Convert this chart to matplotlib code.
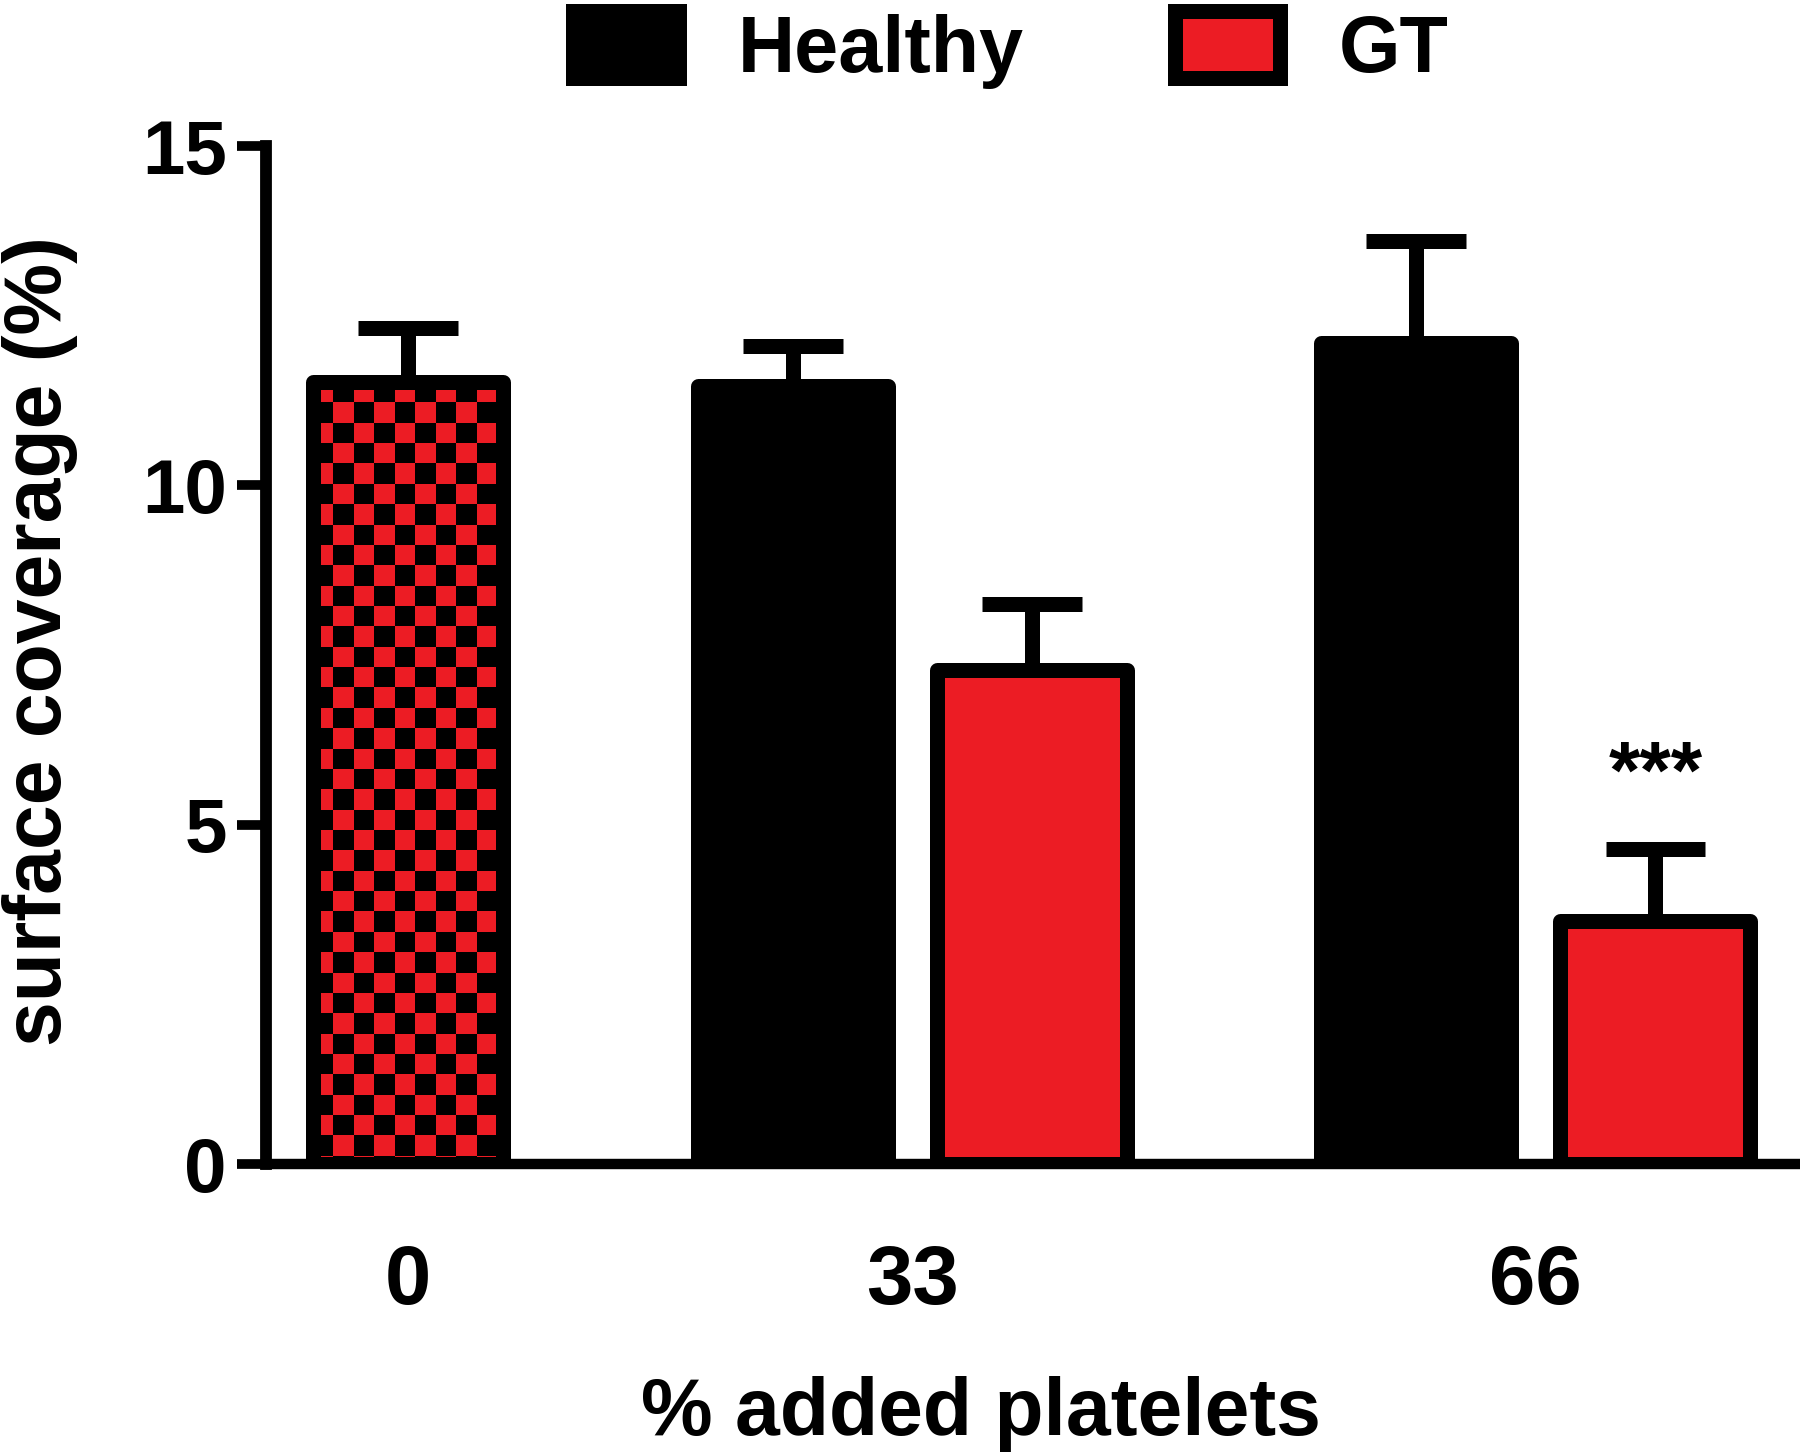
import numpy as np
import matplotlib.pyplot as plt
from matplotlib.colors import ListedColormap

# --- datos (surface coverage %, media y error) ---
groups = ['0', '33', '66']
checker_mean = 11.52
checker_err = 0.80
healthy_mean = [11.46, 12.10]
healthy_err = [0.60, 1.51]
gt_mean = [7.28, 3.58]
gt_err = [0.98, 1.06]
signif = '***'

plt.rcParams['font.family'] = ['Liberation Sans', 'DejaVu Sans']
plt.rcParams['font.weight'] = 'bold'

RED = '#EC1C24'
LW = 10.8          # borde de barras / barras de error
x_pos = [0.19, 1.0, 2.0]
off = 0.192
w = 0.305
cap_hw = 0.08

fig = plt.figure(figsize=(18, 14.56), dpi=100)
ax = fig.add_axes([0.148, 0.2005, 0.852, 0.6991])

# --- barra cuadriculada (0 %) ---
chk = ax.bar(x_pos[0], checker_mean, w, facecolor='none', edgecolor='black',
             linewidth=LW, joinstyle='round', zorder=3)
sq_x, sq_y = 0.0327, 0.30
nx = int(np.ceil(w / sq_x))
ny = int(np.ceil(checker_mean / sq_y))
board = np.add.outer(np.arange(ny), np.arange(nx)) % 2
x0 = x_pos[0] - w / 2
img = ax.imshow(board, cmap=ListedColormap([RED, 'black']),
                extent=(x0, x0 + nx * sq_x, checker_mean - ny * sq_y, checker_mean),
                origin='upper', interpolation='nearest', aspect='auto', zorder=2)
img.set_clip_path(chk[0])

# --- Healthy / GT ---
hx = [x_pos[1] - off, x_pos[2] - off]
gx = [x_pos[1] + off, x_pos[2] + off]
h_bars = ax.bar(hx, healthy_mean, w, color='black', edgecolor='black',
                linewidth=LW, joinstyle='round', zorder=3)
g_bars = ax.bar(gx, gt_mean, w, color=RED, edgecolor='black',
                linewidth=LW, joinstyle='round', zorder=3)

# --- barras de error (solo hacia arriba) ---
ex = [x_pos[0]] + hx + gx
em = [checker_mean] + healthy_mean + gt_mean
ee = [checker_err] + healthy_err + gt_err
for xi, m, e in zip(ex, em, ee):
    ax.vlines(xi, m, m + e, color='black', linewidth=LW, zorder=2.5)
    ax.hlines(m + e, xi - cap_hw, xi + cap_hw, color='black', linewidth=LW,
              zorder=2.5)

ax.text(gx[1], 5.40, signif, ha='center', va='baseline', fontsize=58,
        fontweight='bold')

# --- ejes ---
ax.set_xlim(-0.0367, 2.424)
ax.set_ylim(0, 15)
ax.set_yticks([0, 5, 10, 15])
ax.set_xticks(x_pos)
ax.set_xticklabels(groups)
for s in ['top', 'right']:
    ax.spines[s].set_visible(False)
ax.spines['left'].set_linewidth(8.5)
ax.spines['bottom'].set_linewidth(7.5)
ax.spines['left'].set_zorder(4)
ax.spines['bottom'].set_zorder(4)
ax.tick_params(axis='y', length=21, width=7, pad=7.5, labelsize=55)
ax.tick_params(axis='x', length=0, pad=57, labelsize=60)

fig.text(0.545, 0.0144, '% added platelets', ha='center', va='baseline',
         fontsize=58, fontweight='bold')
fig.text(0.022, 0.56, 'surface coverage (%)', rotation=90, ha='center',
         va='center', fontsize=58, fontweight='bold')

fig.legend([h_bars, g_bars], ['Healthy', 'GT'], loc='center left',
           bbox_to_anchor=(0.3186, 0.9655), ncol=2, frameon=False, fontsize=57,
           handlelength=1.33, handleheight=0.92, handletextpad=0.75,
           columnspacing=1.9, borderpad=0, borderaxespad=0)

fig.savefig('out.png', dpi=100)
